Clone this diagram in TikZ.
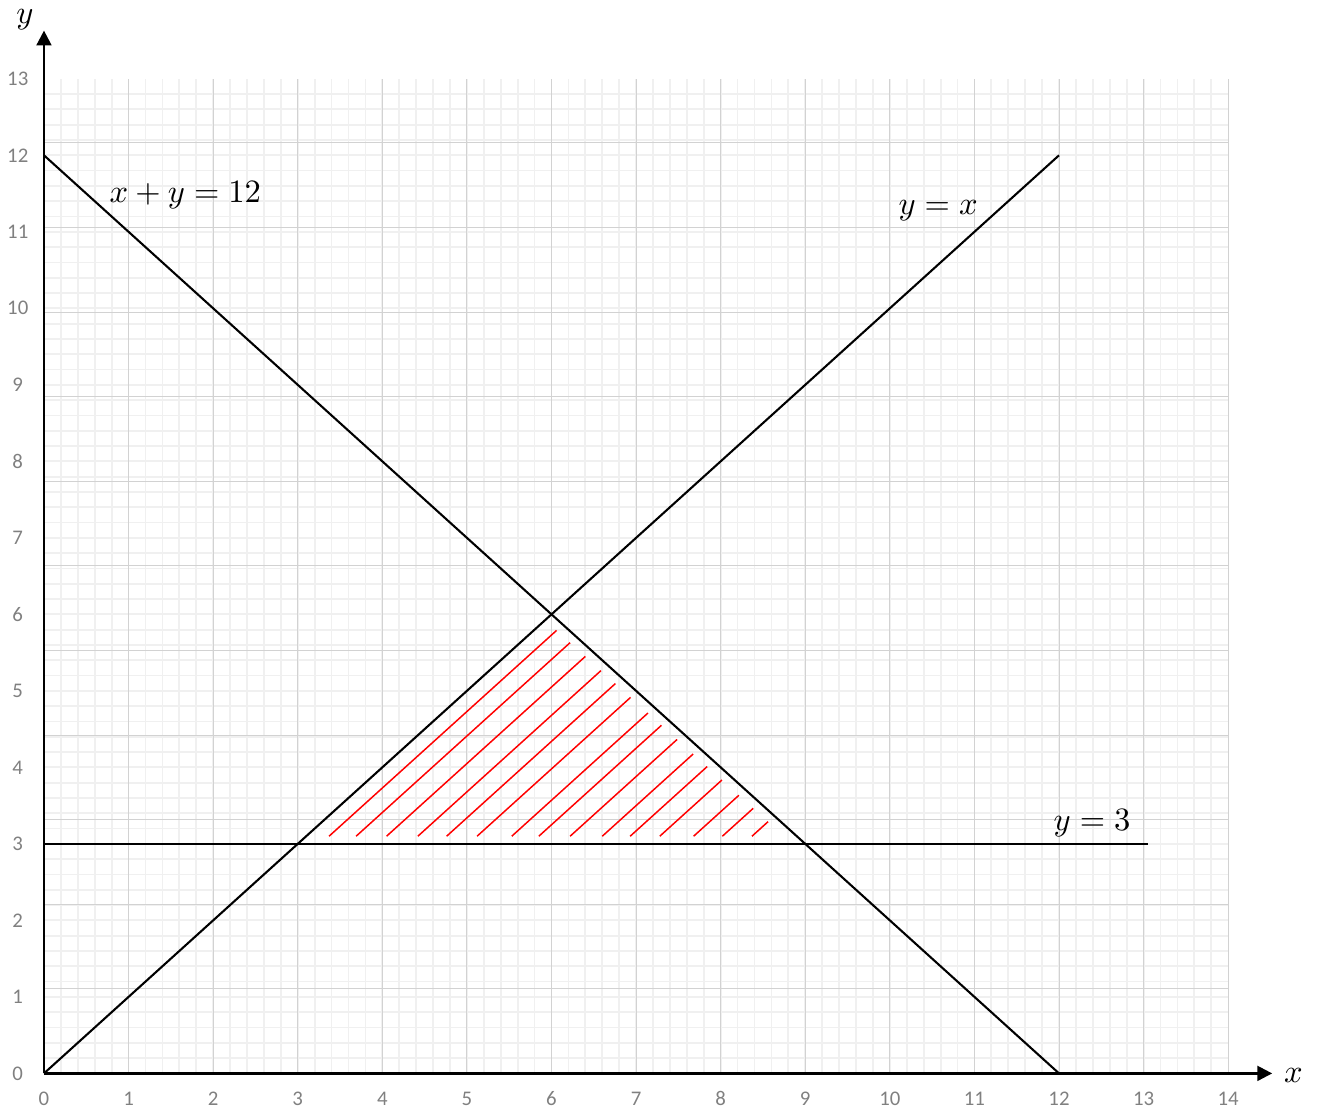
\documentclass[tikz,border=0pt]{standalone}
\usepackage{amsmath,amssymb}
\usepackage{fontspec}
\newfontfamily\tickfont{Carlito}
\usepackage{tikz}
\usetikzlibrary{arrows.meta}

\tikzset{
  minorgrid/.style={gray!12,line width=0.6pt},
  majorgrid/.style={gray!35,line width=0.35pt},
  curve/.style={black,line width=0.7pt},
  axis/.style={black,line width=0.8pt,-{Triangle[length=5pt,width=5pt]}},
  hatch/.style={red,line width=0.5pt},
  ticklbl/.style={text=gray,font=\tickfont\fontsize{7pt}{8pt}\selectfont,inner sep=0pt},
  eqlbl/.style={font=\fontsize{11pt}{13pt}\selectfont,inner sep=0pt}
}

\begin{document}
\begin{tikzpicture}[x=1cm,y=0.9045cm]
  \useasboundingbox (-0.52,-0.497) rectangle (15.05,14.03);
  % grid paper
  \foreach \k in {1,...,69}{\draw[minorgrid] (\k/5,0) -- (\k/5,13);}
  \foreach \k in {1,...,64}{\draw[minorgrid] (0,\k/5) -- (14,\k/5);}
  \draw[majorgrid] (0,0) grid (14,13);
  % corner points of the lines
  \coordinate (O) at (0,0); \coordinate (A) at (0,12);
  \coordinate (B) at (12,0); \coordinate (C) at (12,12);
  \coordinate (D) at (0,3);  \coordinate (E) at (13.05,3);
  \coordinate (xend) at (14.52,0); \coordinate (yend) at (0,13.63);
  % shaded region
  \foreach \s in {3.37,3.69,4.05,4.42,4.76,5.12,5.53,5.85,6.22,6.60,6.93,7.28,7.68,8.02,8.37}{
    \draw[hatch] (\s,3.1) -- ({(8.75+\s)/2},{(14.95-\s)/2});}
  % the three lines
  \draw[curve] (A)--(B); \draw[curve] (O)--(C); \draw[curve] (D)--(E);
  \draw[axis] (O)--(xend); \draw[axis] (O)--(yend);
  % ticks
  \foreach \i in {0,...,14}{\node[ticklbl] (tx\i) at (\i,-0.33) {\i};}
  \foreach \j in {0,...,13}{\node[ticklbl] (ty\j) at (-0.31,\j) {\j};}
  % labels
  \node[eqlbl] (lsum) at (1.67,11.48) {$x+y=12$};
  \node[eqlbl] (ldiag) at (10.57,11.27) {$y=x$};
  \node[eqlbl] (lthree) at (12.39,3.27) {$y=3$};
  \node[eqlbl] (ly) at (-0.225,13.77) {$y$};
  \node[eqlbl] (lx) at (14.77,-0.03) {$x$};
\end{tikzpicture}
\end{document}
